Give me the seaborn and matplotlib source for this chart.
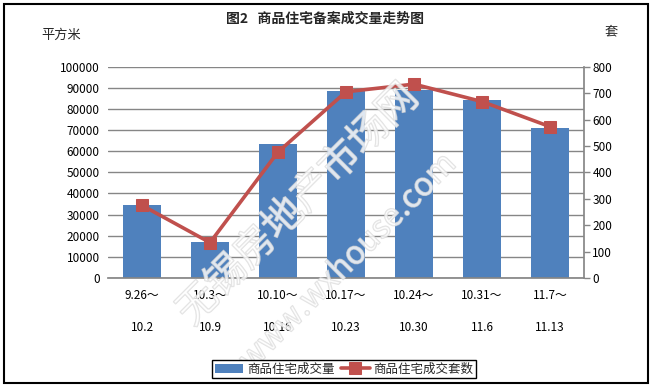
import matplotlib
matplotlib.use("Agg")
import matplotlib.pyplot as plt
import matplotlib.patheffects as pe
import seaborn as sns
import pandas as pd

# data
periods = ["9.26～\n\n10.2", "10.3～\n\n10.9", "10.10～\n\n10.16", "10.17～\n\n10.23",
           "10.24～\n\n10.30", "10.31～\n\n11.6", "11.7～\n\n11.13"]
area = [34500, 17000, 63300, 88700, 88800, 84400, 71100]      # 平方米
units = [275, 134, 477, 705, 734, 668, 573]                   # 套

bar_color = "#4F81BD"
line_color = "#C0504D"
grid_color = "#868686"

sns.set_theme(style="white")
plt.rcParams['font.family'] = ['Noto Sans CJK SC', 'DejaVu Sans']

df = pd.DataFrame({"period": periods, "area": area, "units": units, "pos": range(len(periods))})

fig = plt.figure(figsize=(6.54, 3.88), dpi=100)
ax = fig.add_axes([108/654, 1 - 278/388, (584 - 108)/654, (278 - 66.7)/388])
ax2 = ax.twinx()

sns.barplot(data=df, x="period", y="area", color=bar_color, saturation=1,
            width=0.56, ax=ax, label="商品住宅成交量", zorder=2, linewidth=0)
sns.lineplot(data=df, x="pos", y="units", color=line_color, marker="s",
             markersize=8, linewidth=2.6, markeredgecolor=line_color,
             ax=ax2, label="商品住宅成交套数", zorder=3)

ax.set_xlim(-0.5, len(periods) - 0.5)
ax2.set_xlim(-0.5, len(periods) - 0.5)
ax.set_ylim(0, 100000)
ax2.set_ylim(0, 800)
ax.set_yticks(range(0, 100001, 10000))
ax2.set_yticks(range(0, 801, 100))
ax.yaxis.grid(True, color=grid_color, linewidth=1)
ax.set_axisbelow(True)

ax.set_xlabel("")
ax.set_ylabel("")
ax2.set_xlabel("")
ax2.set_ylabel("")

for s in ["top", "left", "right"]:
    ax.spines[s].set_visible(False)
for s in ["top", "left", "bottom"]:
    ax2.spines[s].set_visible(False)
ax.spines["bottom"].set_color(grid_color)
ax2.spines["right"].set_color(grid_color)

ax.tick_params(axis="y", length=0, labelsize=8.5, pad=6, colors="black")
ax.tick_params(axis="x", length=0, labelsize=8.5, pad=8, colors="black")
ax2.tick_params(axis="y", length=4, width=1, color=grid_color, labelsize=8.5,
                pad=2, labelcolor="black", right=True)
for lbl in ax.get_xticklabels():
    lbl.set_linespacing(1.3)

# legend combining both axes
h1, l1 = ax.get_legend_handles_labels()
h2, l2 = ax2.get_legend_handles_labels()
for a in (ax, ax2):
    if a.get_legend():
        a.get_legend().remove()
leg = fig.legend(h1 + h2, l1 + l2, loc="center", bbox_to_anchor=(344/654, 1 - 369/388),
                 ncol=2, frameon=True, fontsize=9, handlelength=2.3, handletextpad=0.3,
                 columnspacing=0.5, borderpad=0.2, fancybox=False, edgecolor="black",
                 framealpha=1)
leg.get_frame().set_linewidth(1)
leg.set_zorder(20)

fig.text(325/654, 1 - 19/388, "图2   商品住宅备案成交量走势图", ha="center", va="center",
         fontsize=10, fontweight="bold")
fig.text(61/654, 1 - 35/388, "平方米", ha="center", va="center", fontsize=9.5)
fig.text(611/654, 1 - 32/388, "套", ha="center", va="center", fontsize=9.5)

# faint watermark
wm = [pe.Stroke(linewidth=1.0, foreground="#d8d8d8", alpha=0.75), pe.Normal()]
fig.text(298/654, 1 - 205/388, "无锡房地产市场网", rotation=45, ha="center", va="center",
         fontsize=29, color="white", alpha=0.3, path_effects=wm, zorder=10)
fig.text(348/654, 1 - 262/388, "www.wxhouse.com", rotation=45, ha="center", va="center",
         fontsize=23, color="white", alpha=0.3, path_effects=wm, zorder=10)

# outer frame
fig.patches.append(plt.Rectangle((4/654, 5/388), 644/654, 379/388, transform=fig.transFigure,
                                 fill=False, edgecolor="black", linewidth=1.5))

fig.savefig("out.png", dpi=100)
